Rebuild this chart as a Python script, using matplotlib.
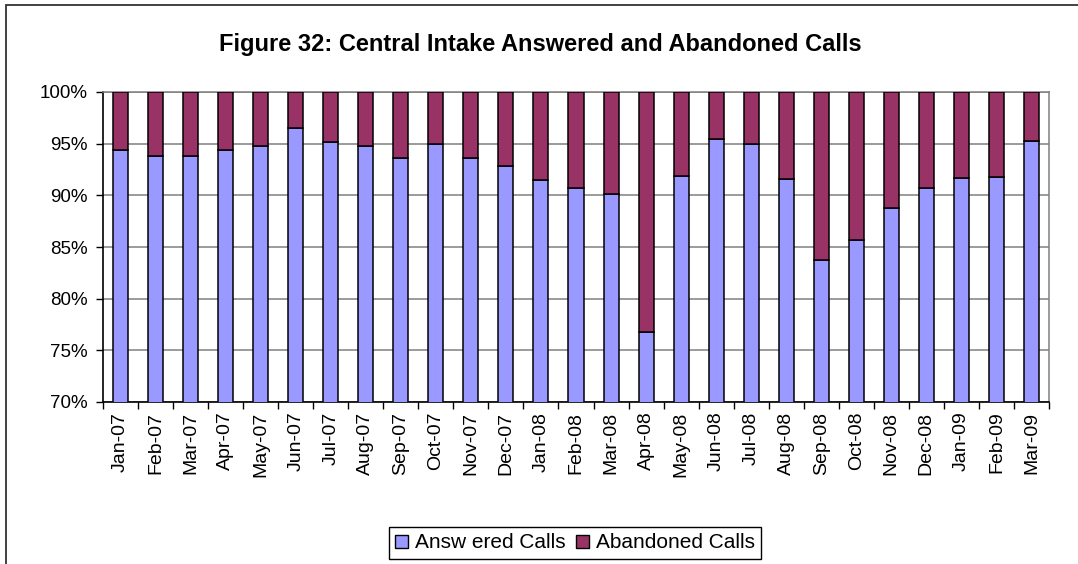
import matplotlib
matplotlib.use("Agg")
import matplotlib.pyplot as plt
from matplotlib.patches import Rectangle, Patch
from matplotlib.ticker import FixedLocator, FuncFormatter

months = ["Jan-07", "Feb-07", "Mar-07", "Apr-07", "May-07", "Jun-07", "Jul-07",
          "Aug-07", "Sep-07", "Oct-07", "Nov-07", "Dec-07", "Jan-08", "Feb-08",
          "Mar-08", "Apr-08", "May-08", "Jun-08", "Jul-08", "Aug-08", "Sep-08",
          "Oct-08", "Nov-08", "Dec-08", "Jan-09", "Feb-09", "Mar-09"]

# percent of calls
answered = [94.35, 93.8, 93.8, 94.35, 94.75, 96.5, 95.15, 94.75, 93.6, 94.95,
            93.6, 92.85, 91.5, 90.7, 90.1, 76.75, 91.85, 95.5, 94.95, 91.6,
            83.75, 85.7, 88.75, 90.7, 91.65, 91.8, 95.3]
abandoned = [5.65, 6.2, 6.2, 5.65, 5.25, 3.5, 4.85, 5.25, 6.4, 5.05,
             6.4, 7.15, 8.5, 9.3, 9.9, 23.25, 8.15, 4.5, 5.05, 8.4,
             16.25, 14.3, 11.25, 9.3, 8.35, 8.2, 4.7]

plt.rcParams["font.family"] = ["Liberation Sans", "DejaVu Sans"]

W, H = 1078, 564
fig = plt.figure(figsize=(W / 100, H / 100), dpi=100)
ax = fig.add_axes([103 / W, 1 - 402 / H, (1049 - 103) / W, (402 - 92) / H])

x = list(range(len(months)))
blue = "#9999FF"
maroon = "#993366"
ax.bar(x, answered, width=0.43, color=blue, edgecolor="black", linewidth=1.1, zorder=3)
ax.bar(x, abandoned, bottom=answered, width=0.43, color=maroon, edgecolor="black",
       linewidth=1.1, zorder=3)

ax.set_xlim(-0.5, len(months) - 0.5)
ax.set_ylim(70, 100)
ax.set_yticks([70, 75, 80, 85, 90, 95, 100])
ax.yaxis.set_major_formatter(FuncFormatter(lambda v, p: "%d%%" % v))
ax.grid(axis="y", color="#808080", linewidth=1.1, zorder=0)

ax.set_xticks(x)
ax.set_xticklabels(months, rotation=90, fontsize=14)
ax.tick_params(axis="x", which="major", length=0, pad=7)
ax.xaxis.set_minor_locator(FixedLocator([i - 0.5 for i in range(len(months) + 1)]))
ax.tick_params(axis="x", which="minor", length=5, width=1, direction="out")
ax.tick_params(axis="y", length=5, width=1, direction="out", labelsize=13.5, pad=6)

for s in ["top", "right"]:
    ax.spines[s].set_color("#808080")
    ax.spines[s].set_linewidth(1.1)
for s in ["left", "bottom"]:
    ax.spines[s].set_color("black")
    ax.spines[s].set_linewidth(1.2)

fig.text(540 / W, 1 - 44 / H, "Figure 32: Central Intake Answered and Abandoned Calls",
         ha="center", va="center", fontsize=17, fontweight="bold")

handles = [Patch(facecolor=blue, edgecolor="black", linewidth=1),
           Patch(facecolor=maroon, edgecolor="black", linewidth=1)]
leg = fig.legend(handles, ["Answ ered Calls", "Abandoned Calls"], loc="center",
                 bbox_to_anchor=(575 / W, 1 - 543 / H), ncol=2, fontsize=15,
                 fancybox=False, framealpha=1, edgecolor="black",
                 handlelength=0.6, handleheight=0.6, handletextpad=0.35,
                 columnspacing=0.5, borderpad=0.3)
leg.get_frame().set_linewidth(1)

fig.patches.append(Rectangle((6 / W, -0.1), 1.2, 1.1 - 5 / H, transform=fig.transFigure,
                             fill=False, edgecolor="#333333", linewidth=1.3))

fig.savefig("out.png", dpi=100)
